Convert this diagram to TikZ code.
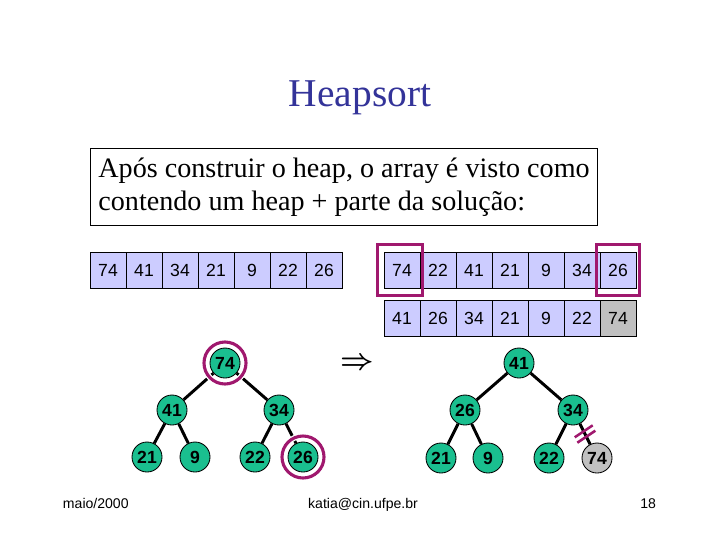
\documentclass[tikz,border=0pt]{standalone}
\usepackage{fontspec}
\setmainfont{Liberation Serif}
\setsansfont{Liberation Sans}
\usepackage{tikz}
\usetikzlibrary{calc,positioning}
\definecolor{titleblue}{HTML}{333399}
\definecolor{cellfill}{HTML}{CCCCFF}
\definecolor{heapgreen}{HTML}{1ABF8F}
\definecolor{spent}{HTML}{C0C0C0}
\definecolor{hilite}{HTML}{A0186E}

\begin{document}
\begin{tikzpicture}[x=0.025cm,y=-0.025cm,
  cell/.style={draw,line width=0.6pt,fill=cellfill,minimum width=0.9cm,minimum height=0.9cm,inner sep=0pt,font=\sffamily\fontsize{12.5}{14}\selectfont},
  hnode/.style={circle,draw,line width=0.6pt,fill=heapgreen,minimum size=0.75cm,inner sep=0pt,font=\sffamily\bfseries\fontsize{12.5}{14}\selectfont},
  treeline/.style={line width=2.1pt},
  hibox/.style={draw=hilite,line width=2.2pt},
  ring/.style={circle,draw=hilite,line width=2.2pt,minimum size=1.05cm,inner sep=0pt,preaction={draw=white,line width=4pt}},
  footer/.style={font=\sffamily\fontsize{10}{12}\selectfont}]
  \useasboundingbox (0,0) rectangle (720,540);
  \fill[white] (0,0) rectangle (720,540);

  \node[font=\fontsize{28}{32}\selectfont,text=titleblue,anchor=base] (title) at (360,106) {Heapsort};
  \node[draw,line width=0.6pt,anchor=north west,align=left,inner xsep=0.2cm,minimum height=1.925cm,
    font=\fontsize{20}{23.4}\selectfont] (intro) at (90,148)
    {Após construir o heap, o array é visto como\\contendo um heap + parte da solução:};

  % arrays
  \foreach \v [count=\i] in {74,41,34,21,9,22,26}
    \node[cell] (a\i) at (72+36*\i,270) {\v};
  \foreach \v [count=\i] in {74,22,41,21,9,34,26}
    \node[cell] (b\i) at (366+36*\i,270) {\v};
  \foreach \v [count=\i] in {41,26,34,21,9,22}
    \node[cell] (c\i) at (366+36*\i,318.5) {\v};
  \node[cell,fill=spent] (c7) at (618,318.5) {74};
  \draw[hibox] ($(b1.north west)+(-6,-7)$) rectangle ($(b1.south east)+(2,7)$);
  \draw[hibox] ($(b7.north west)+(-3,-7)$) rectangle ($(b7.south east)+(3,7)$);

  % heap before the swap
  \foreach \n/\v/\x/\y in {l1/74/225/363,l2/41/172/410,l3/34/279/410,l4/21/147/457,l5/9/195/457,l6/22/255/457,l7/26/303/457}
    \node[hnode] (\n) at (\x,\y) {\v};
  \foreach \p/\c in {l1/l2,l1/l3,l2/l4,l2/l5,l3/l6,l3/l7}
    \draw[treeline] (\p) -- (\c);
  \node[ring] (ringtop) at (l1) {};
  \node[ring] (ringlast) at (l7) {};

  \node[font=\fontsize{20}{24}\selectfont\boldmath] (impl) at (357,364) {$\Rightarrow$};

  % heap after the swap
  \foreach \n/\v/\x/\y in {r1/41/519/363,r2/26/465/410,r3/34/573/410,r4/21/441/458,r5/9/488/458,r6/22/549/458}
    \node[hnode] (\n) at (\x,\y) {\v};
  \node[hnode,fill=spent] (r7) at (597,458) {74};
  \foreach \p/\c in {r1/r2,r1/r3,r2/r4,r2/r5,r3/r6,r3/r7}
    \draw[treeline] (\p) -- (\c);
  \path (r3) -- coordinate (cut) (r7);
  \draw[hilite,line width=1.8pt] ($(cut)+(-10.3,3.3)$) -- ($(cut)+(7.7,-8.7)$);
  \draw[hilite,line width=1.8pt] ($(cut)+(-7.7,8.7)$) -- ($(cut)+(10.3,-3.3)$);

  \node[footer,anchor=base west] (date) at (58,508) {maio/2000};
  \node[footer,anchor=base] (mail) at (363,508) {katia@cin.ufpe.br};
  \node[footer,anchor=base east] (page) at (661,508) {18};
\end{tikzpicture}
\end{document}
